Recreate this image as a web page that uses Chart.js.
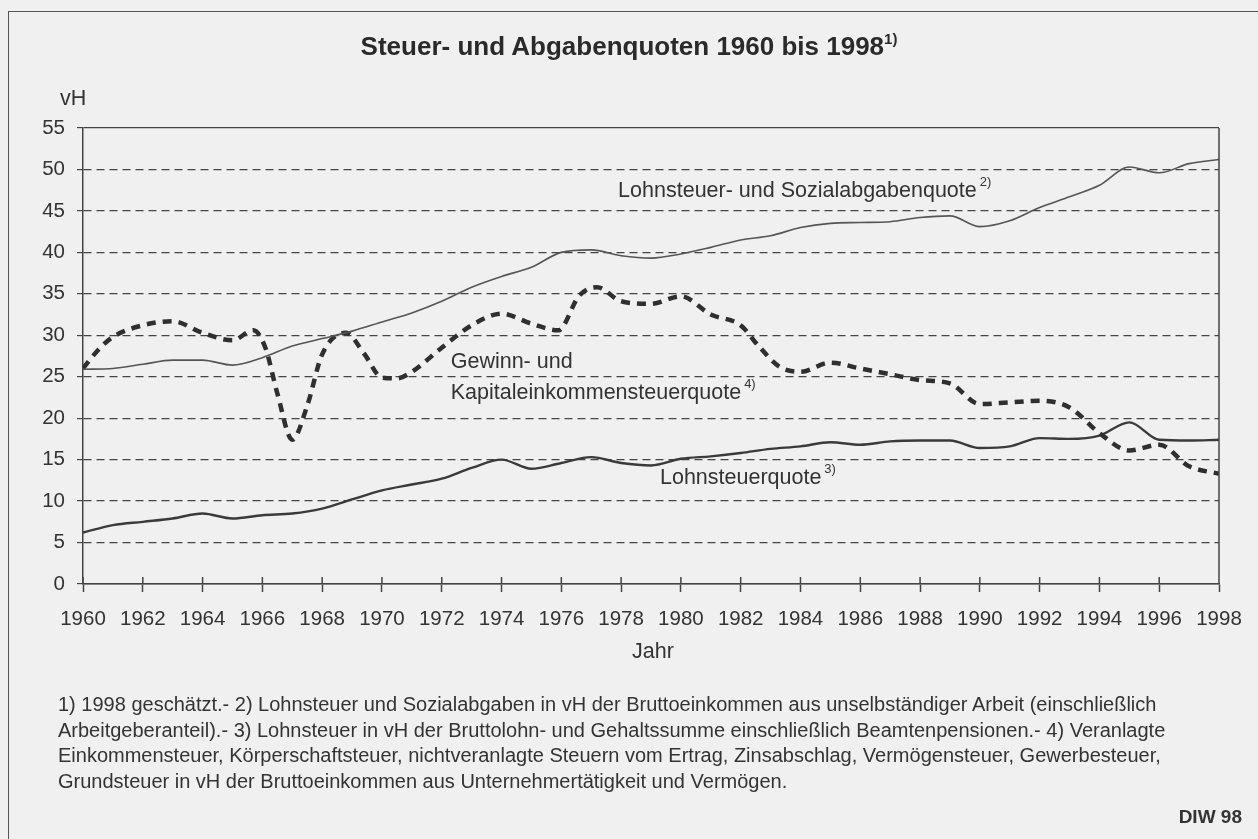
<!DOCTYPE html>
<html>
<head>
<meta charset="utf-8">
<script src="https://cdn.jsdelivr.net/npm/chart.js@4.4.1/dist/chart.umd.min.js"></script>
<style>
html, body { margin: 0; padding: 0; background: #f0f0f0; }
#wrap { position: relative; width: 1258px; height: 839px; overflow: hidden;
        font-family: "Liberation Sans", Arial, sans-serif; color: #333; }
#rahmen { position: absolute; left: 8px; top: 11px; width: 1400px; height: 1000px;
          border-left: 1.5px solid #555; border-top: 1.5px solid #555; }
#c { position: absolute; left: 0; top: 0; }
#titel { position: absolute; left: 0; top: 33px; width: 1258px; text-align: center;
         font-weight: bold; font-size: 26px; line-height: 26px; color: #2a2a2a; }
#titel sup { font-size: 15px; vertical-align: 11px; line-height: 0; }
#fuss { position: absolute; left: 58px; top: 692px; font-size: 20px; line-height: 25.5px; }
#diw { position: absolute; right: 16px; top: 806px; font-weight: bold; font-size: 19px; }
</style>
</head>
<body>
<div id="wrap">
  <div id="rahmen"></div>
  <canvas id="c" width="1258" height="839"></canvas>
  <div id="titel">Steuer- und Abgabenquoten 1960 bis 1998<sup>1)</sup></div>
  <div id="fuss">
    1) 1998 geschätzt.- 2) Lohnsteuer und Sozialabgaben in vH der Bruttoeinkommen aus unselbständiger Arbeit (einschließlich<br>
    Arbeitgeberanteil).- 3) Lohnsteuer in vH der Bruttolohn- und Gehaltssumme einschließlich Beamtenpensionen.- 4) Veranlagte<br>
    Einkommensteuer, Körperschaftsteuer, nichtveranlagte Steuern vom Ertrag, Zinsabschlag, Vermögensteuer, Gewerbesteuer,<br>
    Grundsteuer in vH der Bruttoeinkommen aus Unternehmertätigkeit und Vermögen.
  </div>
  <div id="diw">DIW 98</div>
</div>
<script>
// Jahre 1960 bis 1998
const jahre = [1960, 1961, 1962, 1963, 1964, 1965, 1966, 1967, 1968, 1969,
               1970, 1971, 1972, 1973, 1974, 1975, 1976, 1977, 1978, 1979,
               1980, 1981, 1982, 1983, 1984, 1985, 1986, 1987, 1988, 1989,
               1990, 1991, 1992, 1993, 1994, 1995, 1996, 1997, 1998];

// Lohnsteuer- und Sozialabgabenquote (vH)
const sozialQuote = [25.9, 26.0, 26.5, 27.0, 27.0, 26.4, 27.3, 28.7, 29.6, 30.5,
                     31.6, 32.7, 34.1, 35.8, 37.1, 38.2, 40.0, 40.3, 39.6, 39.3,
                     39.8, 40.6, 41.5, 42.0, 43.0, 43.5, 43.6, 43.7, 44.2, 44.4,
                     43.1, 43.8, 45.4, 46.7, 48.1, 50.3, 49.6, 50.7, 51.2];

// Lohnsteuerquote (vH)
const lohnQuote = [6.2, 7.1, 7.5, 7.9, 8.5, 7.9, 8.3, 8.5, 9.1, 10.2,
                   11.3, 12.0, 12.7, 14.0, 15.0, 13.9, 14.6, 15.3, 14.6, 14.3,
                   15.1, 15.4, 15.8, 16.3, 16.6, 17.1, 16.8, 17.2, 17.3, 17.3,
                   16.4, 16.6, 17.6, 17.5, 17.9, 19.5, 17.4, 17.3, 17.4];

const gewinnJahre = [1960, 1960.5, 1961, 1962, 1963, 1964, 1965, 1965.7, 1966.1, 1966.5,
                     1967, 1967.5, 1968, 1968.8, 1969.4, 1970, 1970.5, 1971, 1972, 1973,
                     1974, 1975, 1975.9, 1976.6, 1977.2, 1978, 1979, 1980, 1981, 1982,
                     1982.6, 1983.3, 1984, 1985, 1986, 1987, 1988, 1989, 1990, 1991,
                     1992, 1993, 1994, 1995, 1996, 1997, 1998];
const gewinnQuote = [26.0, 28.2, 29.8, 31.2, 31.7, 30.3, 29.4, 30.6, 28.5, 23.0,
                     17.4, 21.5, 27.7, 30.3, 27.8, 24.9, 24.8, 25.6, 28.5, 31.2,
                     32.6, 31.4, 30.6, 34.8, 35.8, 34.1, 33.8, 34.7, 32.5, 31.2,
                     28.7, 26.2, 25.6, 26.7, 26.0, 25.3, 24.6, 24.2, 21.7, 21.9,
                     22.1, 21.3, 18.2, 16.1, 16.8, 14.2, 13.3];

// Beschriftungen an den Kurven (Lage in Jahr / vH)
const kurvenText = [
  { text: 'Lohnsteuer- und Sozialabgabenquote', sup: '2)', jahr: 1977.9, wert: 46.7 },
  { text: 'Gewinn- und', sup: '', jahr: 1972.3, wert: 26.0 },
  { text: 'Kapitaleinkommensteuerquote', sup: '4)', jahr: 1972.3, wert: 22.3 },
  { text: 'Lohnsteuerquote', sup: '3)', jahr: 1979.3, wert: 12.1 }
];

const schrift = '"Liberation Sans", Arial, sans-serif';

const beschriftung = {
  id: 'beschriftung',
  afterDraw(chart) {
    const { ctx, chartArea, scales: { x, y } } = chart;
    ctx.save();
    ctx.strokeStyle = '#444';
    ctx.lineWidth = 1.5;
    ctx.setLineDash([]);
    ctx.beginPath();
    // rechter Rahmen
    ctx.moveTo(chartArea.right, chartArea.top);
    ctx.lineTo(chartArea.right, chartArea.bottom);
    // Teilstriche nach oben
    x.ticks.forEach(t => {
      const px = x.getPixelForValue(t.value);
      ctx.moveTo(px, chartArea.bottom - 7);
      ctx.lineTo(px, chartArea.bottom);
    });
    ctx.stroke();

    ctx.fillStyle = '#333';
    ctx.textBaseline = 'alphabetic';
    ctx.textAlign = 'left';
    kurvenText.forEach(k => {
      const px = x.getPixelForValue(k.jahr);
      const py = y.getPixelForValue(k.wert);
      ctx.font = '21.5px ' + schrift;
      ctx.fillText(k.text, px, py);
      if (k.sup) {
        const w = ctx.measureText(k.text).width;
        ctx.font = '13px ' + schrift;
        ctx.fillText(k.sup, px + w + 3, py - 11);
      }
    });

    // Achsentitel
    ctx.font = '21.5px ' + schrift;
    ctx.fillText('vH', 60, chartArea.top - 23);
    ctx.fillText('Jahr', 632, chartArea.bottom + 74);
    ctx.restore();
  }
};

new Chart(document.getElementById('c'), {
  type: 'line',
  data: {
    datasets: [
      {
        label: 'Lohnsteuer- und Sozialabgabenquote',
        data: jahre.map((j, i) => ({ x: j, y: sozialQuote[i] })),
        borderColor: '#555',
        borderWidth: 1.6,
        pointRadius: 0,
        cubicInterpolationMode: 'monotone'
      },
      {
        label: 'Gewinn- und Kapitaleinkommensteuerquote',
        data: gewinnJahre.map((j, i) => ({ x: j, y: gewinnQuote[i] })),
        borderColor: '#2f2f2f',
        borderWidth: 4.5,
        borderDash: [9, 7],
        pointRadius: 0,
        cubicInterpolationMode: 'monotone'
      },
      {
        label: 'Lohnsteuerquote',
        data: jahre.map((j, i) => ({ x: j, y: lohnQuote[i] })),
        borderColor: '#3a3a3a',
        borderWidth: 2.4,
        pointRadius: 0,
        cubicInterpolationMode: 'monotone'
      }
    ]
  },
  options: {
    responsive: false,
    animation: false,
    devicePixelRatio: 1,
    layout: { padding: { top: 128, right: 39, bottom: 185, left: 0 } },
    plugins: {
      legend: { display: false },
      tooltip: { enabled: false }
    },
    scales: {
      x: {
        type: 'linear',
        min: 1960,
        max: 1998,
        afterFit: s => { s.height = 70; },
        ticks: {
          stepSize: 2,
          autoSkip: false,
          maxRotation: 0,
          padding: 15,
          color: '#333',
          font: { family: schrift, size: 20.5 },
          callback: v => String(v)
        },
        grid: { drawOnChartArea: false, tickLength: 8, tickColor: '#444', tickWidth: 1.5 },
        border: { color: '#444', width: 1.5 }
      },
      y: {
        min: 0,
        max: 55,
        afterFit: s => { s.width = 83; },
        ticks: {
          stepSize: 5,
          padding: 12,
          color: '#333',
          font: { family: schrift, size: 20.5 }
        },
        grid: { color: '#444', lineWidth: 1.2, tickLength: 6, tickColor: '#444', tickWidth: 1.2 },
        border: {
          color: '#444',
          width: 1.5,
          dash: c => (c.tick && c.tick.value !== 0 && c.tick.value !== 55) ? [8, 5] : []
        }
      }
    }
  },
  plugins: [beschriftung]
});
</script>
</body>
</html>
